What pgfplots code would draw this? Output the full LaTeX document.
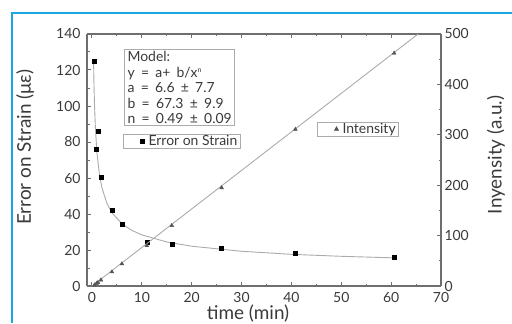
\documentclass[border=0pt]{standalone}
\usepackage{pgfplots}
\pgfplotsset{compat=1.18}
\usepackage{fontspec}
\setmainfont{Lato}
\definecolor{frameblue}{HTML}{1AA7E0}
\definecolor{axgray}{HTML}{6E6E6E}
\definecolor{lngray}{HTML}{ABABAB}
\definecolor{txt}{HTML}{3A3A3A}
\definecolor{trigray}{HTML}{555555}

\pgfplotstableread{
x y
0.5 125
0.9 76
1.2 86
1.8 60.5
4 42
6 34.5
11 24.5
16 23.5
26 21
40.8 18.4
60.6 16.2
}\strain

\pgfplotstableread{
x y
0.32 124.2
0.4 112.0
0.5 101.1
0.7 86.8
1 73.9
1.5 61.8
2 54.5
3 45.9
4 40.7
6 34.6
8 30.9
10 28.4
15 24.45
20 22.1
30 19.3
40 17.6
50 16.5
61 15.6
}\fitcurve

\pgfplotstableread{
x y
0.5 2
0.9 5
1.2 7
1.8 12
4 28
6 44
11 80
16 120
26 195
40.8 311
60.6 462
}\intensity

\pgfplotstableread{
x y
0 0
65.4 500
}\intline

\pgfplotsset{
  common/.style={
    at={(87bp,37bp)}, anchor=south west,
    scale only axis, width=354bp, height=252bp,
    xmin=-1, xmax=70,
    axis line style={axgray, line width=1.3bp},
    tick style={axgray, line width=1bp},
    tick align=inside,
    major tick length=4bp, minor tick length=2.5bp,
    minor tick num=1,
    /pgf/number format/assume math mode=true,
    tick label style={font=\fontsize{14}{15}\selectfont, text=txt},
  },
  mylegend/.style={
    draw=lngray, line width=0.8bp, inner xsep=2bp, inner ysep=0bp,
    font=\fontsize{14}{14.5}\selectfont, text=txt,
    nodes={inner sep=1bp},
    legend image code/.code={\path[draw=none,fill=none] (0bp,0bp) -- (22bp,0bp); \draw[##1] plot coordinates {(17bp,0bp)};},
  }
}

\begin{document}
\begin{tikzpicture}[x=1bp,y=1bp]
\useasboundingbox (0,0) rectangle (512,323);
\draw[frameblue, line width=2bp] (12,0) -- (12,310) -- (513,310);
\begin{axis}[common,
  ymin=0, ymax=140,
  axis y line*=left,
  xtick={0,10,...,70},
  ytick={0,20,...,140},
  yticklabel style={xshift=-3bp},
  xticklabel style={yshift=-3bp},
  every axis x label/.style={at={(axis description cs:0.455,-0.131)}, anchor=base, font=\fontsize{19}{20}\selectfont, text=txt},
  every axis y label/.style={at={(axis description cs:-0.175,0.55)}, anchor=center, rotate=90, font=\fontsize{19}{20}\selectfont, text=txt},
  xlabel={time (min)},
  ylabel={Error on Strain (με)},
  legend style={mylegend, at={(axis description cs:0.102,0.603)}, anchor=north west},
]
\addplot[lngray, line width=0.9bp, forget plot] table {\fitcurve};
\addplot[only marks, mark=square*, mark size=2bp, black] table {\strain};
\addlegendentry{Error on Strain}
\node[draw=lngray, line width=0.8bp, fill=white, anchor=north west, align=left,
  inner xsep=3bp, inner ysep=2bp, font=\fontsize{14}{15.5}\selectfont, text=txt]
  at (axis description cs:0.105,0.94)
  {\spaceskip=0.45em Model:\\\spaceskip=0.45em y = a+ b/x\textsuperscript{\fontsize{7}{8}\selectfont n}\\\spaceskip=0.45em a = 6.6 ± 7.7\\\spaceskip=0.45em b = 67.3 ± 9.9\\\spaceskip=0.45em n = 0.49 ± 0.09};
\end{axis}
\begin{axis}[common,
  ymin=0, ymax=500,
  axis x line=none,
  axis y line*=right,
  ytick={0,100,...,500},
  yticklabel style={xshift=0bp},
  every axis y label/.style={at={(axis description cs:1.155,0.52)}, anchor=center, rotate=90, font=\fontsize{19}{20}\selectfont, text=txt},
  ylabel={Inyensity (a.u.)},
  legend style={mylegend, at={(axis description cs:0.650,0.651)}, anchor=north west},
]
\addplot[lngray, line width=0.9bp, forget plot] table {\intline};
\addplot[only marks, mark=triangle*, mark size=2.2bp, trigray] table {\intensity};
\addlegendentry{Intensity}
\end{axis}
\end{tikzpicture}
\end{document}
